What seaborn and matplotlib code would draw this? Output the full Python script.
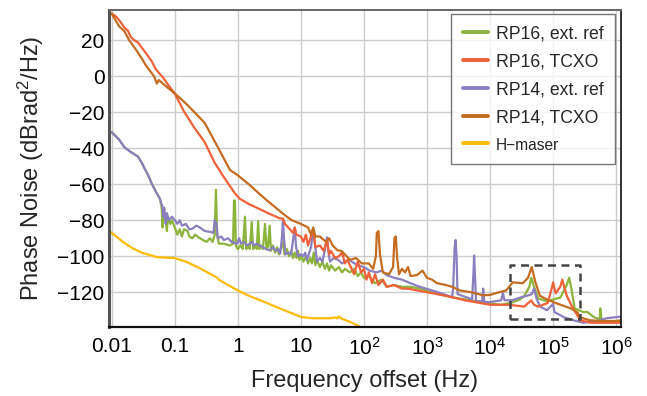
import numpy as np
import pandas as pd
import matplotlib
matplotlib.use('Agg')
import matplotlib.pyplot as plt
import seaborn as sns
from matplotlib.lines import Line2D

# ── DATA ──────────────────────────────────────────────────────────────────────
SERIES_NAMES = ["RP16, ext. ref", "RP16, TCXO", "RP14, ext. ref", "RP14, TCXO", "H\u2212maser"]

rp16_ext_f = [0.01, 0.013, 0.016, 0.02, 0.026, 0.03, 0.033, 0.038, 0.043, 0.05, 0.058, 0.062,
              0.064, 0.066, 0.07, 0.075, 0.078, 0.085, 0.09, 0.1, 0.11, 0.12, 0.13, 0.14, 0.16,
              0.17, 0.19, 0.21, 0.25, 0.28, 0.32, 0.36, 0.4, 0.43, 0.45, 0.47, 0.5, 0.6, 0.75,
              0.84, 0.87, 0.9, 0.93, 1.0, 1.1, 1.2, 1.3, 1.36, 1.45, 1.55, 1.66, 1.75, 1.9, 2.0,
              2.1, 2.2, 2.35, 2.5, 2.7, 2.85, 3.0, 3.2, 3.35, 3.6, 3.9, 4.2, 4.5, 4.8, 5.2, 5.5,
              6.0, 6.5, 7.0, 7.5, 8.0, 8.5, 9.0, 9.5, 10, 11, 12, 13, 14, 15, 16, 17, 18, 20, 22,
              24, 26, 28, 30, 35, 40, 45, 50, 60, 70, 80, 90, 100, 120, 150, 190, 230, 300, 400,
              550, 770, 1000, 1500, 2500, 5000, 9000, 1.5e4, 2.3e4, 3e4, 3.5e4, 4.2e4, 4.5e4,
              5e4, 5.8e4, 8e4, 1.3e5, 1.6e5, 1.8e5, 1.95e5, 2.2e5, 3e5, 3.5e5, 4.5e5, 5.5e5,
              5.6e5, 5.9e5, 7e5, 1e6, 1.25e6]
rp16_ext_db = [-31, -35, -39.5, -42, -44.5, -48, -51, -55, -59.5, -64, -68, -73,
               -84, -74, -77, -86, -78, -82, -80, -84, -88, -85, -89, -85, -86,
               -89, -90, -88, -90, -91, -92, -90, -92, -88, -63, -88, -93, -93, -94,
               -93, -69, -69, -94, -96, -94, -96, -78, -96, -94, -96, -81, -96, -94, -96,
               -80.5, -96, -94, -96, -82, -96, -95, -83, -97, -94, -98, -95, -99, -96, -92, -99,
               -96, -100, -97, -101, -98, -101, -97, -102, -99, -103, -100, -104, -101, -104, -98, -105, -102, -106, -103,
               -107, -104, -108, -105, -108, -106, -109, -107, -109, -107, -111, -109, -112, -111, -115, -113, -117, -116, -117,
               -117, -118, -119, -121, -122.8, -124.5, -126, -127, -125.6, -124, -122, -117, -112,
               -117, -123.5, -125, -123, -117, -112, -118, -129, -131, -131, -134, -135,
               -129, -136, -136.5, -136.5, -136]

rp16_tcxo_f = [0.01, 0.012, 0.014, 0.016, 0.018, 0.02, 0.023, 0.026, 0.03, 0.037, 0.043, 0.05,
               0.065, 0.08, 0.1, 0.14, 0.2, 0.3, 0.43, 0.6, 0.75, 0.9, 1.07, 1.5, 2.0, 3.0, 4.7,
               5.2, 5.6, 6.7, 7.5, 8.0, 8.5, 10, 11, 12, 13, 15.7, 17, 20, 23, 26, 28, 30, 35, 40,
               45, 50, 55, 60, 70, 80, 90, 100, 110, 120, 135, 150, 170, 200, 230, 300, 400, 500,
               700, 1000, 2000, 4000, 1e4, 2e4, 3.5e4, 4.5e4, 5e4, 5.8e4, 8.2e4, 9.5e4, 1e5,
               1.1e5, 1.3e5, 1.4e5, 1.5e5, 1.65e5, 2e5, 2.7e5, 4e5, 1.25e6]
rp16_tcxo_db = [35, 33, 30, 27, 25.5, 22, 20, 19, 16, 11.7, 8.5, 4,
                -0.6, -5, -9.5, -19.5, -28, -36.7, -48, -56, -61, -65, -68, -71, -73, -76, -79,
                -79, -82, -85, -87, -84, -88, -89, -92, -88, -94, -85, -95, -94, -97, -91, -99, -97, -101, -100,
                -98, -104, -102, -105, -110, -103, -109, -107, -113, -109, -115, -110, -116, -113, -117, -116, -118, -118,
                -119, -120, -122, -124.5, -127, -127, -128, -124.5, -127, -128, -126, -118, -114.5,
                -120.6, -117, -113, -117, -122, -128, -135.6, -137, -137]

rp14_ext_f = [0.01, 0.013, 0.016, 0.02, 0.026, 0.03, 0.033, 0.038, 0.043, 0.05, 0.058, 0.064,
              0.066, 0.068, 0.072, 0.075, 0.08, 0.09, 0.1, 0.11, 0.12, 0.13, 0.15, 0.17, 0.19,
              0.22, 0.25, 0.3, 0.36, 0.41, 0.43, 0.46, 0.48, 0.55, 0.6, 0.7, 0.8, 0.97, 1.05,
              1.12, 1.25, 1.4, 1.7, 1.8, 2.0, 2.2, 2.5, 2.8, 3.2, 3.6, 4.0, 4.4, 4.7, 5.0, 5.2,
              5.4, 5.7, 6.3, 7.0, 7.6, 8.0, 8.4, 9.0, 10, 10.9, 11.7, 12.5, 14.5, 15.7, 17, 18,
              20, 22, 24.5, 26, 28, 29, 33, 39, 45, 50, 58, 68, 80, 100, 123, 160, 190, 230, 300,
              400, 550, 770, 1500, 2500, 2600, 2750, 2850, 2950, 3050, 5200, 5450, 5600, 5800,
              6000, 7500, 7800, 8100, 1e4, 1.5e4, 1.6e4, 1.7e4, 2.3e4, 3e4, 4.2e4, 4.6e4, 5e4,
              5.4e4, 6.2e4, 8e4, 1e5, 1.05e5, 1.5e5, 2.1e5, 3e5, 5e5, 7e5, 1.25e6]
rp14_ext_db = [-31, -35, -39.5, -42, -44.5, -48, -51, -55, -59.5, -64, -68, -72.7,
               -78, -73, -82, -76, -80, -78, -80, -82, -80, -83, -82, -85, -84.7,
               -83, -84, -86, -86.4, -87, -80, -82, -90, -89, -91, -90, -92, -93, -90,
               -93, -92, -94, -92, -94, -93, -94, -95, -96, -96.7, -95, -97, -96, -98.5, -90, -80,
               -90, -99, -98, -99, -90, -84, -95, -100, -99, -100, -98, -102, -95, -84.5, -95, -103,
               -101, -103, -95, -89.5, -100, -103, -101, -102, -104, -103, -102, -103.6, -105, -106, -108, -109, -108, -110.5, -112,
               -113, -115, -117, -120, -122.8, -118, -95, -91, -100, -121, -124, -110, -99.5, -112,
               -125, -125, -118, -125.5, -125.5, -124.5, -120.5, -124.5, -124.4, -123, -121.6, -121, -118,
               -123, -128, -130, -126.5, -131, -134, -135.6, -137, -136, -134.5, -133.5]

rp14_tcxo_f = [0.01, 0.013, 0.016, 0.019, 0.022, 0.026, 0.03, 0.035, 0.045, 0.048, 0.052, 0.056,
               0.07, 0.1, 0.13, 0.16, 0.22, 0.3, 0.46, 0.75, 1.0, 1.5, 2.0, 2.9, 4.0, 5.5, 7.2, 10,
               13, 14.5, 15.7, 17, 20, 25, 28, 32, 38, 44, 50, 60, 75, 93, 120, 140, 155, 160, 170,
               180, 200, 250, 290, 305, 320, 335, 360, 400, 450, 500, 550, 690, 850, 1000, 1200,
               1450, 2000, 2500, 3300, 5000, 7700, 1e4, 1.4e4, 1.8e4, 2.3e4, 3.3e4, 4e4, 4.6e4,
               5.2e4, 6.2e4, 8e4, 1.1e5, 1.9e5, 2.4e5, 2.7e5, 3.8e5, 6e5, 1e6, 1.25e6]
rp14_tcxo_db = [35, 28, 25, 20, 17, 13.3, 10, 6, 1, -0.6, -4, -2,
                -5, -9.5, -13, -16, -21, -26, -38, -52, -55, -60, -64, -69, -73, -77, -80, -82,
                -84, -88, -84, -89, -89, -92, -90, -94, -96.7, -97, -99, -102, -101, -104, -104, -107, -100, -87, -86,
                -99, -109, -110, -106, -90, -89, -100, -110, -107, -109, -106, -111, -110.5, -108, -112, -113,
                -115, -116, -117, -119, -120, -121.7, -121.5, -120, -119, -114.5, -115, -112, -106,
                -114, -122, -124, -126, -129, -131, -134, -135.6, -136, -136, -135.5]

hmaser_f = [0.0095, 0.01, 0.015, 0.0215, 0.03, 0.052, 0.1, 0.15, 0.25, 0.4, 0.46, 0.5, 0.7, 1.0,
            1.5, 2.9, 5.0, 10, 15, 29, 35, 38, 40, 45, 60, 80, 120]
hmaser_db = [-86.5, -87, -92, -95.6, -98, -100.5, -101, -103, -106.7, -110.5, -111.7, -113, -116,
             -119, -122, -126, -129.5, -133.7, -134.5, -134.5, -134, -134.6, -133.5, -134.8,
             -136.5, -138.5, -142]

ZOOM_BOX_F = [2.1e4, 2.7e5]
ZOOM_BOX_DB = [-135, -105]

COLORS = ["#8cb33a", "#ef6139", "#8b7fc0", "#c46c1f", "#ffbb00"]
X_TICKS = [0.01, 0.1, 1, 10, 1e2, 1e3, 1e4, 1e5, 1e6]
X_TICK_LABELS = ["0.01", "0.1", "1", "10", r"$\mathregular{10^{2}}$", r"$\mathregular{10^{3}}$",
                 r"$\mathregular{10^{4}}$", r"$\mathregular{10^{5}}$", r"$\mathregular{10^{6}}$"]
Y_TICKS = [-120, -100, -80, -60, -40, -20, 0, 20]
# ─────────────────────────────────────────────────────────────────────────────

sns.set_style('white')
plt.rcParams['font.family'] = ['Liberation Sans', 'DejaVu Sans']
plt.rcParams['mathtext.fontset'] = 'custom'
plt.rcParams['mathtext.rm'] = 'Liberation Sans'
plt.rcParams['mathtext.it'] = 'Liberation Sans:italic'

frames = []
for name, f, db in zip(SERIES_NAMES,
                       [rp16_ext_f, rp16_tcxo_f, rp14_ext_f, rp14_tcxo_f, hmaser_f],
                       [rp16_ext_db, rp16_tcxo_db, rp14_ext_db, rp14_tcxo_db, hmaser_db]):
    frames.append(pd.DataFrame({"freq": f, "pn": db, "series": name}))
df = pd.concat(frames, ignore_index=True)
palette = dict(zip(SERIES_NAMES, COLORS))

fig = plt.figure(figsize=(6.47, 3.96), dpi=100)
ax = fig.add_axes([0.168, 0.174, 0.792, 0.801])

# draw order: maser first, TCXO curves on top
draw_order = [SERIES_NAMES[4], SERIES_NAMES[0], SERIES_NAMES[2], SERIES_NAMES[1], SERIES_NAMES[3]]
for name in draw_order:
    sns.lineplot(data=df[df.series == name], x="freq", y="pn", color=palette[name],
                 estimator=None, sort=False, lw=1.6, ax=ax, legend=False)

ax.plot([ZOOM_BOX_F[0], ZOOM_BOX_F[1], ZOOM_BOX_F[1], ZOOM_BOX_F[0], ZOOM_BOX_F[0]],
        [ZOOM_BOX_DB[0], ZOOM_BOX_DB[0], ZOOM_BOX_DB[1], ZOOM_BOX_DB[1], ZOOM_BOX_DB[0]],
        color="#444444", lw=1.8, ls=(0, (3.2, 2.2)), zorder=5)

ax.set_xscale('log')
ax.set_xlim(0.00896, 1.2e6)
ax.set_ylim(-139.4, 37)
ax.set_xticks(X_TICKS)
ax.set_xticklabels(X_TICK_LABELS)
ax.set_yticks(Y_TICKS)
ax.minorticks_off()
ax.tick_params(axis='both', length=0, labelsize=15, colors='black')
ax.tick_params(axis='x', pad=7)
ax.tick_params(axis='y', pad=3)
ax.grid(True, color='#cccccc', lw=1.0)
ax.set_axisbelow(True)

ax.set_xlabel("Frequency offset (Hz)", fontsize=17, labelpad=8)
ax.set_ylabel(r"Phase Noise (dBrad$^{\mathregular{2}}$/Hz)", fontsize=17, labelpad=8)

ax.spines['left'].set_color('#555555')
ax.spines['left'].set_linewidth(2.2)
ax.spines['bottom'].set_color('#111111')
ax.spines['bottom'].set_linewidth(1.6)
ax.spines['top'].set_color('#666666')
ax.spines['top'].set_linewidth(1.4)
ax.spines['right'].set_color('#111111')
ax.spines['right'].set_linewidth(1.2)

legend_order = SERIES_NAMES
handles = [Line2D([0], [0], color=palette[n], lw=2.8) for n in legend_order]
leg = ax.legend(handles, legend_order, loc='upper right', bbox_to_anchor=(0.988, 0.987),
                borderaxespad=0, fontsize=12.7, frameon=True, fancybox=False,
                handlelength=1.42, handletextpad=0.45, labelspacing=0.62, borderpad=0.65)
leg.get_frame().set_edgecolor('#555555')
leg.get_frame().set_linewidth(1.0)
leg.get_texts()[-1].set_fontsize(11.2)

fig.savefig("out.png", dpi=100)
